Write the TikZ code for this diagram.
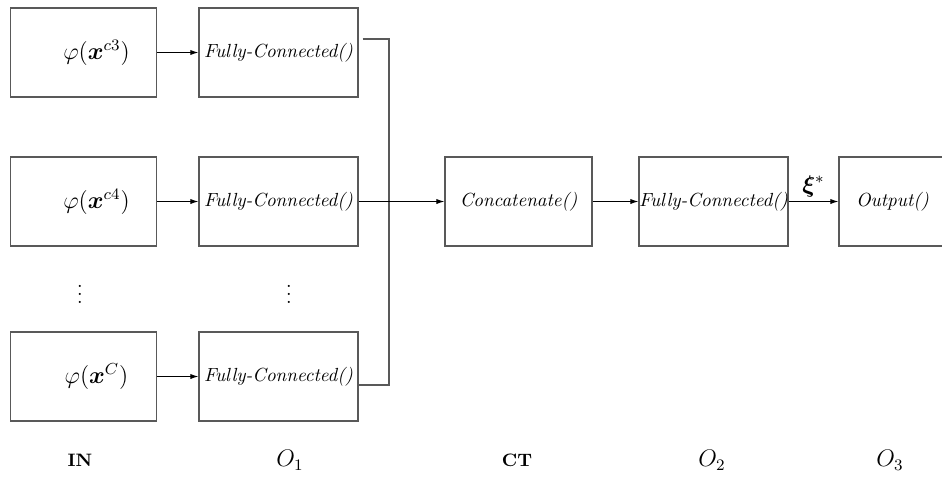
\documentclass[tikz,border=0pt]{standalone}
\usepackage{amsmath,amssymb,bm}
\usetikzlibrary{arrows.meta}
\begin{document}
\begin{tikzpicture}[x=0.5pt,y=-0.5pt,
  box/.style={draw=black!65, line width=0.6pt, minimum height=44.5pt, inner sep=0pt, font=\fontsize{9.5}{11}\selectfont\itshape},
  inbox/.style={box, minimum width=73pt, font=\large},
  fcbox/.style={box, minimum width=79.5pt},
  catbox/.style={box, minimum width=73.5pt},
  fctwo/.style={box, minimum width=74.5pt},
  outbox/.style={box, minimum width=53.5pt},
  arr/.style={-{Latex[length=4pt,width=2.6pt]}, line width=0.5pt, black},
  bus/.style={line width=0.6pt, draw=black!65},
  lab/.style={inner sep=0pt, font=\small},
  olab/.style={inner sep=0pt, font=\large},
  dots/.style={inner sep=0pt}]
\useasboundingbox (0,0) rectangle (942,478);
\clip (0,0) rectangle (942,478);
% input boxes
\node[inbox] (in1) at (83.5,52.5) {\hspace*{13pt}$\varphi(\bm{x}^{c3})$};
\node[inbox] (in2) at (83.5,201.5) {\hspace*{13pt}$\varphi(\bm{x}^{c4})$};
\node[inbox] (in3) at (83.5,376.5) {\hspace*{13pt}$\varphi(\bm{x}^{C})$};
% FC boxes
\node[fcbox] (fc1) at (278.5,52.5) {Fully-Connected()};
\node[fcbox] (fc2) at (278.5,201.5) {Fully-Connected()};
\node[fcbox] (fc3) at (278.5,376.5) {Fully-Connected()};
% dots
\node[dots] (d1) at (80,288) {$\vdots$};
\node[dots] (d2) at (289,288) {$\vdots$};
% concat and later
\node[catbox] (cat) at (518.5,201.5) {Concatenate()};
\node[fctwo] (fc4) at (713.5,201.5) {Fully-Connected()};
\node[outbox] (out) at (892.5,201.5) {Output()};
% arrows
\draw[arr] (in1) -- (fc1);
\draw[arr] (in2) -- (fc2);
\draw[arr] (in3) -- (fc3);
\coordinate (bt) at (389,39);
\coordinate (bb) at (389,385);
\draw[bus] ([xshift=2pt]fc1.east |- bt) -- (bt) -- (bb) -- (fc3.east |- bb);
\draw[arr] (fc2) -- (cat);
\draw[arr] (cat) -- (fc4);
\draw[arr] (fc4) -- node[above=1pt, font=\large, inner sep=1pt] (xi) {$\bm{\xi}^{*}$} (out);
% bottom labels
\node[lab] (lIN) at (80,460) {\textbf{IN}};
\node[olab] (lO1) at (290,460) {$O_1$};
\node[lab] (lCT) at (517,460) {\textbf{CT}};
\node[olab] (lO2) at (712,460) {$O_2$};
\node[olab] (lO3) at (890,460) {$O_3$};
\end{tikzpicture}
\end{document}
